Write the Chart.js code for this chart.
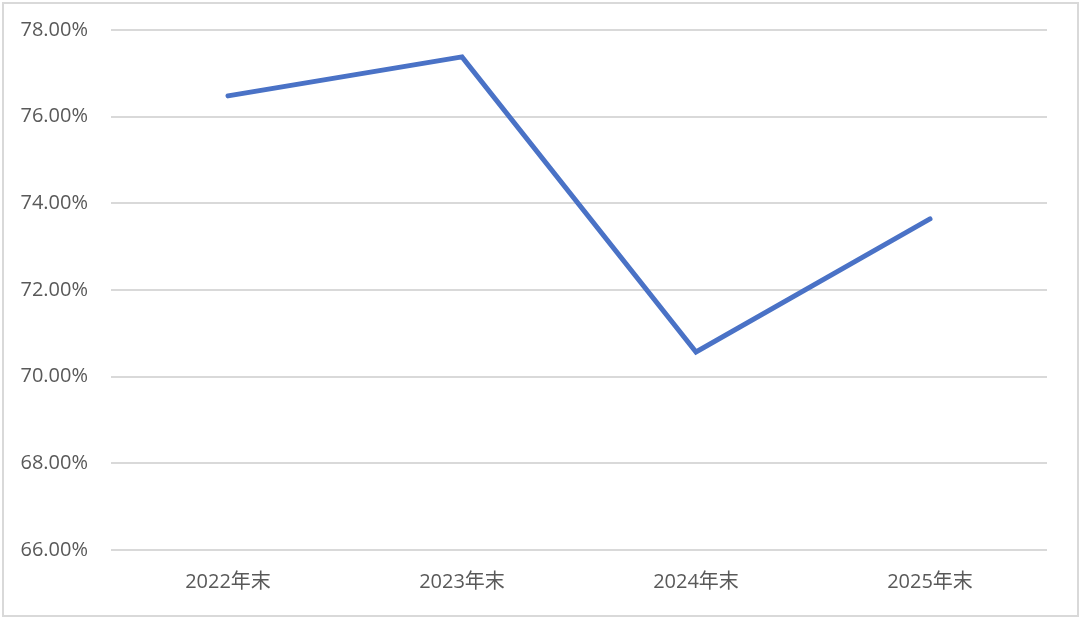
<!DOCTYPE html>
<html lang="zh">
<head>
<meta charset="utf-8" />
<title>Chart</title>
<script src="https://cdn.jsdelivr.net/npm/chart.js"></script>
<style>
  html, body { margin: 0; padding: 0; background: #fff; }
  #wrap { position: absolute; left: 2px; top: 2px; width: 1073px; height: 611px; border: 2px solid #d9d9d9; }
  #box { position: absolute; left: 0; top: 0; width: 1080px; height: 619px; }
</style>
</head>
<body>
<div id="wrap"></div>
<div id="box"><canvas id="c" width="1080" height="619"></canvas></div>
<script>
  // data
  const labels = ['2022年末', '2023年末', '2024年末', '2025年末'];
  const values = [76.48, 77.38, 70.57, 73.64];
  const yMin = 66, yMax = 78, yStep = 2;

  const font = { family: '"Open Sans", "Noto Sans CJK SC", sans-serif', size: 20 };

  new Chart(document.getElementById('c').getContext('2d'), {
    type: 'line',
    data: {
      labels: labels,
      datasets: [{
        data: values,
        borderColor: '#4a72c6',
        borderWidth: 5,
        borderCapStyle: 'round',
        borderJoinStyle: 'miter',
        pointRadius: 0,
        tension: 0,
        fill: false
      }]
    },
    options: {
      responsive: false,
      animation: false,
      layout: { padding: { top: 30, right: 33, left: 0, bottom: 0 } },
      plugins: { legend: { display: false }, tooltip: { enabled: false } },
      scales: {
        x: {
          offset: true,
          grid: { display: false },
          border: { display: false },
          ticks: { color: '#595959', font: font, padding: 12, maxRotation: 0 },
          afterFit: s => { s.height = 69; }
        },
        y: {
          min: yMin, max: yMax,
          grid: { color: '#d9d9d9', lineWidth: 2, drawTicks: false },
          border: { display: false },
          ticks: {
            stepSize: yStep,
            color: '#595959',
            font: font,
            padding: 23,
            callback: v => v.toFixed(2) + '%'
          },
          afterFit: s => { s.width = 111; s.paddingTop = 0; s.paddingBottom = 0; }
        }
      }
    }
  });
</script>
</body>
</html>
